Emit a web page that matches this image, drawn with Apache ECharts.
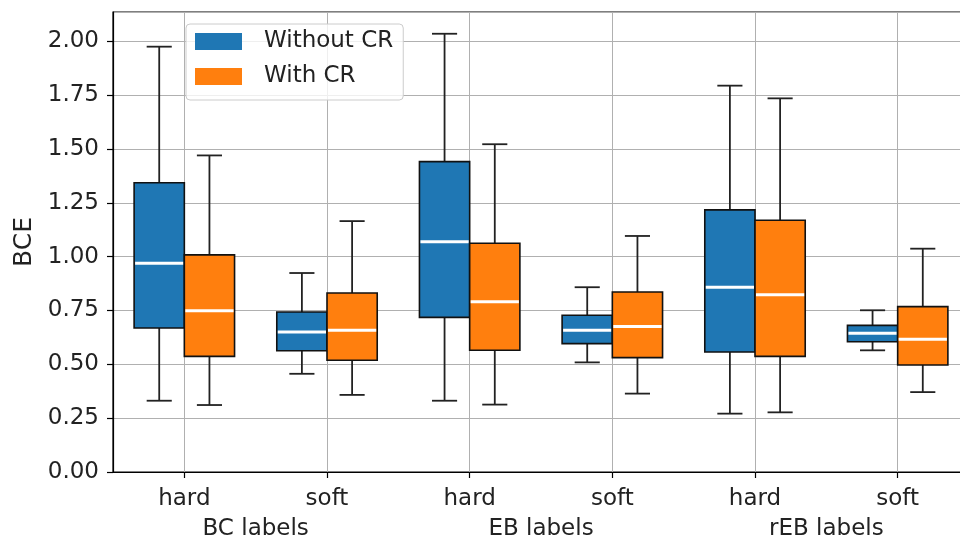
<!DOCTYPE html>
<html>
<head>
<meta charset="utf-8">
<script src="https://cdn.jsdelivr.net/npm/echarts@6/dist/echarts.min.js"></script>
<style>html,body{margin:0;padding:0;background:#fff;}#c{width:960px;height:538px;}</style>
</head>
<body>
<div id="c"></div>
<script>
// ---- data ----
const categories = ['hard', 'soft', 'hard', 'soft', 'hard', 'soft'];
const groupLabels = ['BC labels', 'EB labels', 'rEB labels'];
const seriesNames = ['Without CR', 'With CR'];
// [min, Q1, median, Q3, max] per category
const withoutCR = [
  [0.331, 0.669, 0.969, 1.343, 1.975],
  [0.456, 0.563, 0.650, 0.743, 0.924],
  [0.331, 0.718, 1.069, 1.441, 2.035],
  [0.509, 0.596, 0.658, 0.728, 0.858],
  [0.271, 0.557, 0.858, 1.217, 1.794],
  [0.565, 0.605, 0.644, 0.681, 0.751]
];
const withCR = [
  [0.311, 0.537, 0.749, 1.008, 1.470],
  [0.358, 0.519, 0.658, 0.831, 1.165],
  [0.313, 0.565, 0.791, 1.062, 1.522],
  [0.364, 0.531, 0.676, 0.836, 1.096],
  [0.277, 0.537, 0.823, 1.169, 1.735],
  [0.371, 0.497, 0.616, 0.768, 1.037]
];
const yTicks = [0, 0.25, 0.5, 0.75, 1.0, 1.25, 1.5, 1.75, 2.0];

// ---- styling ----
const FONT = 'DejaVu Sans';
const TXT = '#222';
const colors = ['#1f77b4', '#ff7f0e'];
const BOX_W = 0.352;

function toData(arr) {
  return arr.map((v, i) => [i + 1].concat(v));
}

function renderBox(params, api) {
  const side = params.seriesIndex === 0 ? -1 : 1;
  const c = api.value(0) + side * BOX_W / 2;
  const mn = api.value(1), q1 = api.value(2), md = api.value(3), q3 = api.value(4), mx = api.value(5);
  const pTL = api.coord([c - BOX_W / 2, q3]);
  const pBR = api.coord([c + BOX_W / 2, q1]);
  const pMax = api.coord([c, mx]);
  const pMin = api.coord([c, mn]);
  const capL = api.coord([c - BOX_W / 4, mx])[0];
  const capR = api.coord([c + BOX_W / 4, mx])[0];
  const pMed = api.coord([c, md]);
  const lineStyle = { stroke: '#222', lineWidth: 1.8 };
  const fill = colors[params.seriesIndex];
  return {
    type: 'group',
    children: [
      { type: 'line', shape: { x1: pMax[0], y1: pMax[1], x2: pMax[0], y2: pTL[1] }, style: lineStyle },
      { type: 'line', shape: { x1: pMin[0], y1: pMin[1], x2: pMin[0], y2: pBR[1] }, style: lineStyle },
      { type: 'line', shape: { x1: capL, y1: pMax[1], x2: capR, y2: pMax[1] }, style: lineStyle },
      { type: 'line', shape: { x1: capL, y1: pMin[1], x2: capR, y2: pMin[1] }, style: lineStyle },
      { type: 'rect', shape: { x: pTL[0], y: pTL[1], width: pBR[0] - pTL[0], height: pBR[1] - pTL[1] },
        style: { fill: fill, stroke: '#111', lineWidth: 1.6 } },
      { type: 'line', shape: { x1: pTL[0] + 1, y1: pMed[1], x2: pBR[0] - 1, y2: pMed[1] },
        style: { stroke: '#fff', lineWidth: 3 } }
    ]
  };
}

const chart = echarts.init(document.getElementById('c'), null, { renderer: 'canvas' });
chart.setOption({
  animation: false,
  backgroundColor: '#fff',
  grid: { left: 113, top: 12, right: -9, bottom: 66, containLabel: false, outerBoundsMode: 'none',
          show: true, borderColor: '#000', borderWidth: 1.2, backgroundColor: 'transparent' },
  legend: {
    orient: 'vertical', left: 186, top: 24,
    icon: 'rect', itemWidth: 47, itemHeight: 17, itemGap: 12,
    padding: [6, 10, 12, 9],
    backgroundColor: 'rgba(255,255,255,0.8)', borderColor: '#ccc', borderWidth: 1, borderRadius: 4,
    textStyle: { fontFamily: FONT, fontSize: 23, color: TXT, padding: [0, 0, 0, 17], lineHeight: 17 },
    data: seriesNames.map((n, i) => ({ name: n, itemStyle: { color: colors[i], borderWidth: 0 } }))
  },
  xAxis: [
    {
      type: 'value', min: 0.5, max: 6.5,
      axisLine: { show: true, lineStyle: { color: '#000', width: 1.2 } },
      axisTick: { show: true, length: 6, customValues: [1, 2, 3, 4, 5, 6], lineStyle: { color: '#000', width: 1.2 } },
      axisLabel: { customValues: [1, 2, 3, 4, 5, 6], margin: 16, fontFamily: FONT, fontSize: 23, color: TXT,
                   formatter: v => categories[Math.round(v) - 1] || '' },
      splitLine: { show: true, lineStyle: { color: '#b0b0b0', width: 1 } }
    },
    {
      type: 'value', min: 0.5, max: 6.5, position: 'bottom',
      axisLine: { show: false }, axisTick: { show: false }, splitLine: { show: false },
      axisLabel: { customValues: [1.5, 3.5, 5.5], margin: 46, fontFamily: FONT, fontSize: 23, color: TXT,
                   formatter: v => groupLabels[Math.round((v - 1.5) / 2)] || '' }
    }
  ],
  yAxis: {
    type: 'value', min: 0, max: 2.136, interval: 0.25,
    name: 'BCE', nameLocation: 'middle', nameGap: 75,
    nameTextStyle: { fontFamily: FONT, fontSize: 25, color: TXT },
    axisLine: { show: true, lineStyle: { color: '#000', width: 1.2 } },
    axisTick: { show: true, length: 6, lineStyle: { color: '#000', width: 1.2 } },
    axisLabel: { margin: 14, fontFamily: FONT, fontSize: 23, color: TXT, showMaxLabel: false,
                 formatter: v => (yTicks.some(t => Math.abs(t - v) < 1e-6) ? v.toFixed(2) : '') },
    splitLine: { show: true, lineStyle: { color: '#b0b0b0', width: 1 } }
  },
  series: [
    { name: seriesNames[0], type: 'custom', xAxisIndex: 0, renderItem: renderBox,
      itemStyle: { color: colors[0] }, encode: { x: 0, y: [1, 2, 3, 4, 5] }, data: toData(withoutCR), clip: false },
    { name: seriesNames[1], type: 'custom', xAxisIndex: 0, renderItem: renderBox,
      itemStyle: { color: colors[1] }, encode: { x: 0, y: [1, 2, 3, 4, 5] }, data: toData(withCR), clip: false }
  ]
});
</script>
</body>
</html>
